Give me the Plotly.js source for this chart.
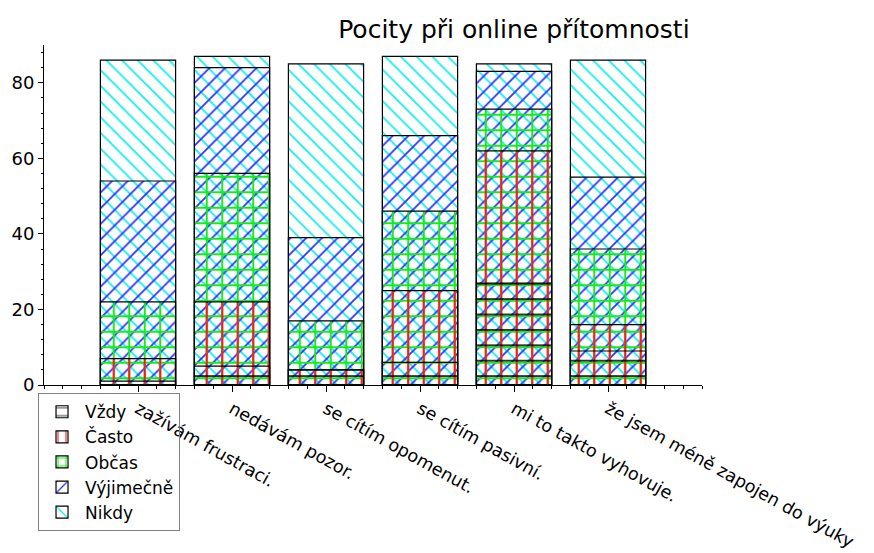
<!DOCTYPE html>
<html>
<head>
<meta charset="utf-8">
<script src="https://cdn.plot.ly/plotly-3.0.1.min.js"></script>
<style>html,body{margin:0;padding:0;background:#fff;}#chart{width:874px;height:553px;}</style>
</head>
<body>
<div id="chart"></div>
<script>
// Categories (x axis)
const categories = ['zažívám frustraci.', 'nedávám pozor.', 'se cítím opomenut.', 'se cítím pasivní.', 'mi to takto vyhovuje.', 'že jsem méně zapojen do výuky'];
// Series names (legend order)
const seriesNames = ['Vždy', 'Často', 'Občas', 'Výjimečně', 'Nikdy'];
// Bar heights as drawn (overlaid, each bar starts at 0)
const vzdy      = [1, 5, 4, 6, 27, 9];
const casto     = [7, 22, 4, 25, 62, 16];
const obcas     = [22, 56, 17, 46, 73, 36];
const vyjimecne = [54, 84, 39, 66, 83, 55];
const nikdy     = [86, 87, 85, 87, 85, 86];
// Axis ticks
const yTicks = [0, 20, 40, 60, 80];

const seriesValues = [vzdy, casto, obcas, vyjimecne, nikdy];
const styles = [
  {color: '#000000', shape: '-', size: 15.4, solidity: 0.1},
  {color: '#ff1a1a', shape: '|', size: 15.5, solidity: 0.14},
  {color: '#11ee11', shape: '+', size: 15.5, solidity: 0.23},
  {color: '#3030ff', shape: '/', size: 11.1, solidity: 0.16},
  {color: '#11eeee', shape: '\\', size: 11.1, solidity: 0.16}
];
const xpos = categories.map((c, i) => i);

// draw largest first so the smaller series lie on top
const traces = [];
for (let k = seriesNames.length - 1; k >= 0; k--) {
  traces.push({
    type: 'bar',
    name: seriesNames[k],
    x: xpos,
    y: seriesValues[k],
    width: 0.8,
    marker: {
      color: styles[k].color,
      line: {color: '#000', width: 1.2},
      pattern: {shape: styles[k].shape, size: styles[k].size, solidity: styles[k].solidity, fillmode: 'replace'}
    },
    hoverinfo: 'x+y+name'
  });
}

const layout = {
  width: 874, height: 553,
  margin: {l: 44, r: 172, t: 45, b: 168, autoexpand: false},
  paper_bgcolor: '#fff', plot_bgcolor: '#fff',
  barmode: 'overlay',
  font: {family: 'DejaVu Sans, sans-serif', size: 18, color: '#000'},
  title: {text: 'Pocity při online přítomnosti', font: {size: 25, color: '#000'}, x: 0.588, xref: 'container', xanchor: 'center', y: 0.948, yref: 'container', yanchor: 'middle'},
  xaxis: {
    range: [-1, 6], tickmode: 'array', tickvals: xpos, ticktext: categories, tickangle: 29,
    showline: true, linecolor: '#000', linewidth: 1, ticks: 'outside', ticklen: 6, tickcolor: '#000',
    showgrid: false, zeroline: false, automargin: false,
    minor: {dtick: 0.2, tick0: 0, ticks: 'outside', ticklen: 3, tickcolor: '#000', showgrid: false},
    tickfont: {size: 17.5}
  },
  yaxis: {
    range: [0, 90], tickmode: 'array', tickvals: yTicks,
    showline: true, linecolor: '#000', linewidth: 1, ticks: 'outside', ticklen: 5, tickcolor: '#000',
    showgrid: false, zeroline: false, automargin: false,
    minor: {dtick: 4, tick0: 0, ticks: 'outside', ticklen: 2, tickcolor: '#000', showgrid: false},
    tickfont: {size: 18}
  },
  legend: {
    xref: 'container', yref: 'container', x: 0.0435, y: 0.289, xanchor: 'left', yanchor: 'top',
    bgcolor: 'rgba(255,255,255,0)', bordercolor: '#808080', borderwidth: 1, font: {size: 17}, traceorder: 'reversed',
    itemwidth: 36
  },
  showlegend: true
};

Plotly.newPlot('chart', traces, layout, {displayModeBar: false, staticPlot: true});
</script>
</body>
</html>
